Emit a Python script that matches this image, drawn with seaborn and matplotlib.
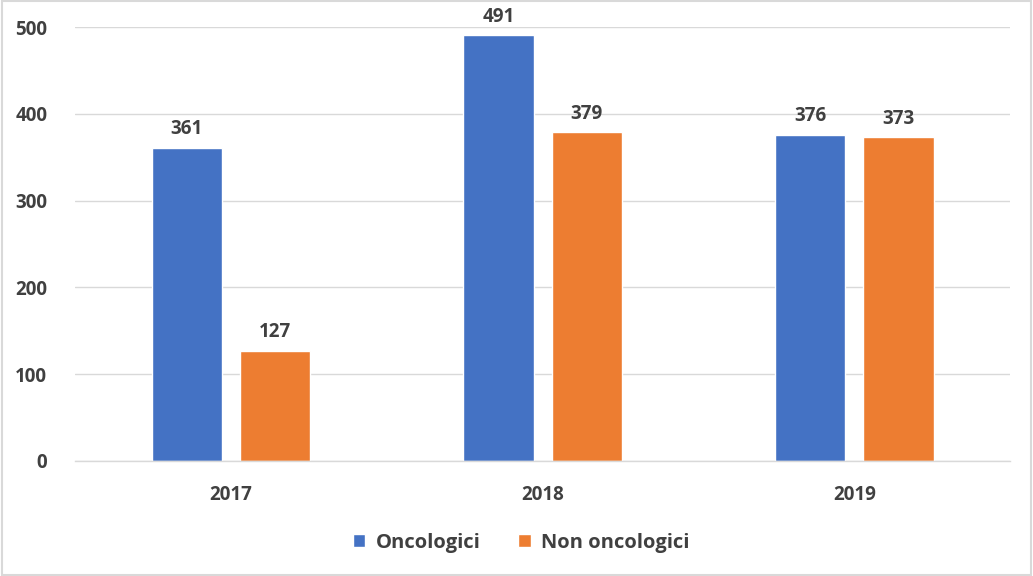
import matplotlib
matplotlib.use("Agg")
import matplotlib.pyplot as plt
import seaborn as sns
import pandas as pd

years = ["2017", "2018", "2019"]
oncologici = [361, 491, 376]
non_oncologici = [127, 379, 373]
series_names = ["Oncologici", "Non oncologici"]
y_ticks = [0, 100, 200, 300, 400, 500]

df = pd.DataFrame({
    "anno": years * 2,
    "valore": oncologici + non_oncologici,
    "serie": [series_names[0]] * 3 + [series_names[1]] * 3,
})

sns.set_theme(style="white")
plt.rcParams["font.family"] = ["Open Sans", "DejaVu Sans"]
plt.rcParams["font.weight"] = "bold"
text_col = "#404040"
fsize = 13.5

fig = plt.figure(figsize=(10.33, 5.76), dpi=100)
ax = fig.add_axes([0.0726, 0.1997, 0.9054, 0.7533])

sns.barplot(data=df, x="anno", y="valore", hue="serie",
            palette=["#4472C4", "#ED7D31"], width=0.566, gap=0.205,
            saturation=1, ax=ax, legend=True)

ax.set_ylim(0, 500)
ax.set_xlim(-0.5, 2.5)
ax.set_yticks(y_ticks)
ax.yaxis.grid(True, color="#D9D9D9", linewidth=1)
ax.set_axisbelow(True)
for s in ["top", "right", "left"]:
    ax.spines[s].set_visible(False)
ax.spines["bottom"].set_color("#D9D9D9")
ax.spines["bottom"].set_linewidth(1)
ax.set_xlabel("")
ax.set_ylabel("")
ax.tick_params(axis="both", length=0, labelsize=fsize, labelcolor=text_col)
ax.tick_params(axis="x", pad=17)
ax.tick_params(axis="y", pad=20)
for lab in ax.get_xticklabels() + ax.get_yticklabels():
    lab.set_fontweight("bold")

for cont in ax.containers:
    ax.bar_label(cont, padding=6, fontsize=fsize, fontweight="bold", color=text_col)

leg = ax.legend(loc="center", bbox_to_anchor=(0.477, -0.189), ncol=2,
                frameon=False, fontsize=14.5, handlelength=0.6, handleheight=0.6,
                handletextpad=0.5, columnspacing=1.9)
for t in leg.get_texts():
    t.set_fontweight("bold")
    t.set_color(text_col)

fig.patches.append(plt.Rectangle((0.002, 0.002), 0.996, 0.996, transform=fig.transFigure,
                                 fill=False, edgecolor="#D9D9D9", linewidth=1.5))

fig.savefig("out.png", dpi=100)
